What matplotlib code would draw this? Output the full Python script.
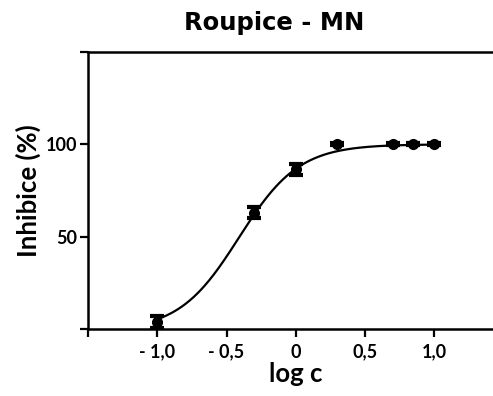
import numpy as np
import matplotlib
matplotlib.use("Agg")
import matplotlib.pyplot as plt

# measured mean inhibition with SEM
log_c = [-1.0, -0.301, 0.0, 0.301, 0.699, 0.845, 1.0]
inhibition = [3.8, 62.9, 86.4, 100.0, 100.0, 100.0, 100.0]
sem = [3.0, 3.0, 3.0, 0.5, 0.5, 0.5, 0.5]

# four-parameter logistic fit
fit_bottom = -1.0
fit_top = 100.0
fit_log_ic50 = -0.41
fit_hill = 2.0

x_ticks = [-1.5, -1.0, -0.5, 0.0, 0.5, 1.0, 1.5]
x_tick_labels = ["", "- 1,0", "- 0,5", "0", "0,5", "1,0", ""]
y_ticks = [0, 50, 100, 150]
y_tick_labels = ["", "50", "100", ""]

label_font = ["Lato", "DejaVu Sans"]

fig = plt.figure(figsize=(4.93, 3.96), dpi=100)
ax = fig.add_axes([88 / 493, 1 - 329 / 396, 415.5 / 493, 277 / 396])

xs = np.linspace(min(log_c), max(log_c), 300)
ys = fit_bottom + (fit_top - fit_bottom) / (1 + 10 ** ((fit_log_ic50 - xs) * fit_hill))
ax.plot(xs, ys, color="black", lw=1.6, zorder=2)

ax.errorbar(log_c, inhibition, yerr=sem, fmt="o", color="black", ms=7,
            elinewidth=3, capsize=5, capthick=3, zorder=3)

ax.set_xlim(-1.5, 1.5)
ax.set_ylim(0, 150)
ax.set_xticks(x_ticks)
ax.set_xticklabels(x_tick_labels, fontfamily=label_font, fontweight="bold", fontsize=13)
ax.set_yticks(y_ticks)
ax.set_yticklabels(y_tick_labels, fontfamily=label_font, fontweight="bold", fontsize=13)
ax.tick_params(axis="both", direction="out", length=5.5, width=1.6, pad=2)
ax.tick_params(axis="x", pad=5)

ax.spines["right"].set_visible(False)
for side in ("left", "bottom", "top"):
    ax.spines[side].set_linewidth(1.8)

ax.set_xlabel("log c", fontfamily=label_font, fontweight="bold", fontsize=18.5, labelpad=1)
ax.set_ylabel("Inhibice (%)", fontfamily=label_font, fontweight="bold", fontsize=18.5, labelpad=4)

fig.text(274 / 493, 1 - 23 / 396, "Roupice - MN", ha="center", va="center",
         fontfamily=["DejaVu Sans"], fontweight="bold", fontsize=17.5)

fig.savefig("out.png", dpi=100)
